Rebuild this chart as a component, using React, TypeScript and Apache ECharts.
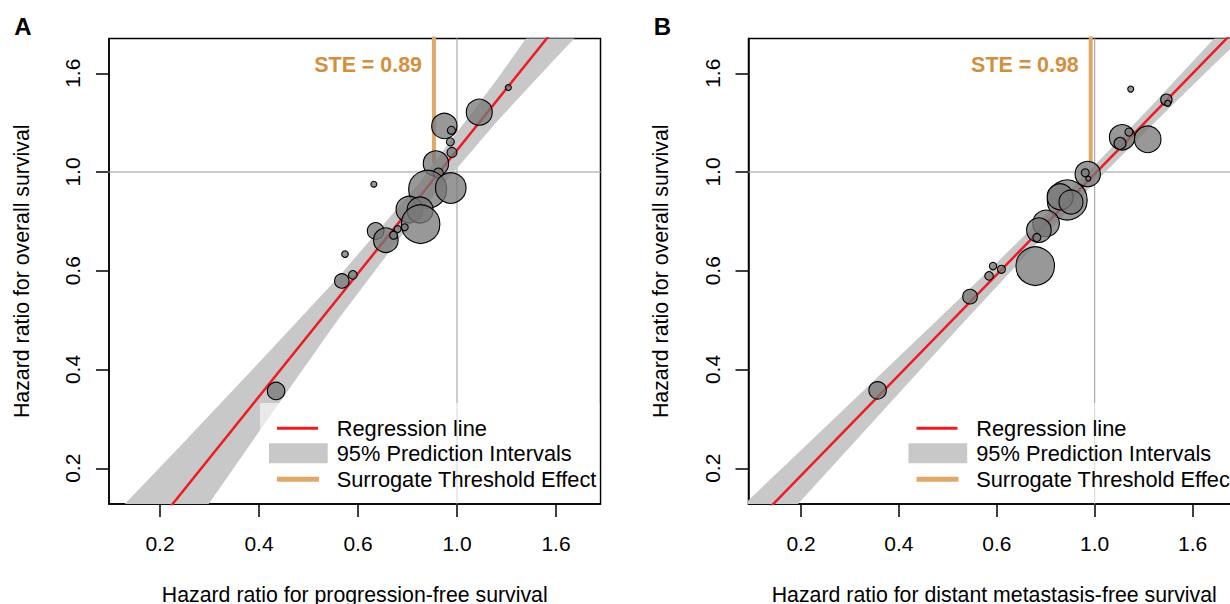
import React, { useEffect, useRef } from 'react';
import * as echarts from 'echarts';

// ---------- shared axis ticks (axes are on natural-log hazard-ratio scale) ----------
const tickLogs = [-1.5, -1, -0.5, 0, 0.5];
const tickLabels = ['0.2', '0.4', '0.6', '1.0', '1.6'];

// ---------- Panel A : PFS vs OS ----------
const aPfsHR = [1.296, 1.119, 0.938, 0.972, 0.967, 0.975, 0.899, 0.91, 0.862, 0.969, 0.657, 0.786, 0.83, 0.832, 0.741, 0.768, 0.663, 0.698, 0.726, 0.568, 0.591, 0.559, 0.401];
const aOsHR = [1.534, 1.354, 1.263, 1.235, 1.165, 1.104, 1.044, 0.995, 0.916, 0.922, 0.94, 0.827, 0.825, 0.768, 0.749, 0.756, 0.742, 0.708, 0.726, 0.66, 0.594, 0.576, 0.33];
const aWeight = [90, 1690, 1610, 160, 160, 250, 1610, 250, 3610, 2340, 90, 1770, 1690, 3720, 120, 120, 690, 1510, 160, 110, 185, 530, 760];
const aBandX = [0.165, 0.247, 0.368, 0.549, 0.819, 1.221, 1.649, 2.226];
const aBandLow = [0.0849, 0.1512, 0.2687, 0.4742, 0.8065, 1.2885, 1.7825, 2.452];
const aBandHigh = [0.1636, 0.2493, 0.3814, 0.5868, 0.9371, 1.5936, 2.4376, 3.747];
const aRegX = [0.165, 2.226];
const aRegY = [0.118, 3.031];
const aSTE = 0.89;

// ---------- Panel B : DMFS vs OS ----------
const bDmfsHR = [1.202, 1.442, 1.452, 1.15, 1.191, 1.138, 1.311, 0.965, 0.953, 0.968, 0.869, 0.838, 0.886, 0.78, 0.752, 0.744, 0.738, 0.595, 0.621, 0.583, 0.529, 0.33];
const bOsHR = [1.522, 1.442, 1.416, 1.192, 1.224, 1.156, 1.18, 0.99, 0.996, 0.967, 0.868, 0.882, 0.859, 0.771, 0.745, 0.718, 0.621, 0.621, 0.611, 0.591, 0.532, 0.331];
const bWeight = [90, 325, 90, 1610, 160, 360, 1770, 1610, 160, 62, 4000, 1690, 1440, 1770, 1510, 160, 3720, 137, 160, 185, 533, 757];
const bBandX = [0.1496, 0.2231, 0.3329, 0.4966, 0.7408, 1.0, 1.3499, 1.8221, 2.4596];
const bBandLow = [0.1222, 0.1892, 0.2926, 0.452, 0.6935, 0.9468, 1.2771, 1.7074, 2.2739];
const bBandHigh = [0.1676, 0.2444, 0.3567, 0.5215, 0.7672, 1.0353, 1.4137, 1.9464, 2.6939];
const bRegX = [0.1496, 2.4596];
const bRegY = [0.1431, 2.4749];
const bSTE = 0.98;

const legendNames = ['Regression line', '95% Prediction Intervals', 'Surrogate Threshold Effect'];

const FONT = '"Liberation Sans", Arial, Helvetica, sans-serif';
const RED = '#ec1c24';
const BAND = '#c8c8c8';
const STE_LINE = '#e0a96a';
const STE_TEXT = '#d48f3e';
const POINT = 'rgba(120,120,120,0.76)';
const STE_END = 1.045;

const ln = Math.log;

type Panel = {
  label: string;
  xTitle: string;
  left: number;
  width: number;
  xMin: number;
  xMax: number;
  xs: number[];
  ys: number[];
  w: number[];
  bandX: number[];
  bandLo: number[];
  bandHi: number[];
  regX: number[];
  regY: number[];
  ste: number;
};

const TOP = 38.5;
const BOTTOM_PX = 504;
const Y_MIN = -1.681;
const Y_MAX = 0.676;

const panels: Panel[] = [
  {
    label: 'A', xTitle: 'Hazard ratio for progression-free survival',
    left: 109, width: 491.5, xMin: -1.7576, xMax: 0.7247,
    xs: aPfsHR, ys: aOsHR, w: aWeight,
    bandX: aBandX, bandLo: aBandLow, bandHi: aBandHigh,
    regX: aRegX, regY: aRegY, ste: aSTE,
  },
  {
    label: 'B', xTitle: 'Hazard ratio for distant metastasis-free survival',
    left: 748.5, width: 491.5, xMin: -1.768, xMax: 0.742,
    xs: bDmfsHR, ys: bOsHR, w: bWeight,
    bandX: bBandX, bandLo: bBandLow, bandHi: bBandHigh,
    regX: bRegX, regY: bRegY, ste: bSTE,
  },
];

function buildOption() {
  const grid: any[] = [];
  const xAxis: any[] = [];
  const yAxis: any[] = [];
  const series: any[] = [];
  const graphic: any[] = [];
  const fmt = (v: number) => {
    const i = tickLogs.findIndex((t) => Math.abs(t - v) < 1e-6);
    return i >= 0 ? tickLabels[i] : '';
  };

  panels.forEach((p, i) => {
    grid.push({
      left: p.left, top: TOP, width: p.width, height: BOTTOM_PX - TOP,
      outerBoundsMode: 'none', containLabel: false,
      show: true, borderColor: '#000', borderWidth: 1.5, backgroundColor: 'transparent',
    });
    xAxis.push({
      type: 'value', gridIndex: i, min: p.xMin, max: p.xMax,
      name: p.xTitle, nameLocation: 'middle', nameGap: 80,
      nameTextStyle: { fontSize: 21.3, color: '#000', fontFamily: FONT },
      axisLine: { show: true, onZero: false, lineStyle: { color: '#000', width: 1.5 } },
      axisTick: { show: true, length: 13, inside: false, customValues: tickLogs, lineStyle: { color: '#000', width: 1.5 } },
      axisLabel: { show: true, customValues: tickLogs, formatter: fmt, margin: 29, fontSize: 21, color: '#000', fontFamily: FONT },
      splitLine: { show: false },
    });
    yAxis.push({
      type: 'value', gridIndex: i, min: Y_MIN, max: Y_MAX,
      name: 'Hazard ratio for overall survival', nameLocation: 'middle', nameGap: 77,
      nameTextStyle: { fontSize: 21.3, color: '#000', fontFamily: FONT },
      axisLine: { show: true, onZero: false, lineStyle: { color: '#000', width: 1.5 } },
      axisTick: { show: true, length: 13, inside: false, customValues: tickLogs, lineStyle: { color: '#000', width: 1.5 } },
      axisLabel: { show: true, customValues: tickLogs, formatter: fmt, rotate: 90, margin: 26, fontSize: 21, color: '#000', fontFamily: FONT },
      splitLine: { show: false },
    });

    // reference lines at HR = 1
    series.push({
      type: 'line', xAxisIndex: i, yAxisIndex: i, silent: true, symbol: 'none', z: 1,
      data: [[0, Y_MIN - 1], [0, Y_MAX + 1]], lineStyle: { color: '#9a9a9a', width: 1 }, clip: true,
    });
    series.push({
      type: 'line', xAxisIndex: i, yAxisIndex: i, silent: true, symbol: 'none', z: 1,
      data: [[p.xMin - 1, 0], [p.xMax + 1, 0]], lineStyle: { color: '#9a9a9a', width: 1 }, clip: true,
    });

    // prediction band
    const bandData = p.bandX.map((x, k) => [ln(x), ln(p.bandLo[k]), ln(p.bandHi[k])]);
    series.push({
      type: 'custom', xAxisIndex: i, yAxisIndex: i, silent: true, z: 2, clip: true,
      data: bandData,
      encode: { x: 0, y: [1, 2] },
      renderItem: (params: any, api: any) => {
        if (params.dataIndex !== 0) return null;
        const upper = bandData.map((d) => api.coord([d[0], d[2]]));
        const lower = bandData.map((d) => api.coord([d[0], d[1]])).reverse();
        return { type: 'polygon', shape: { points: upper.concat(lower) }, style: { fill: BAND } };
      },
    });

    // regression line
    series.push({
      type: 'line', xAxisIndex: i, yAxisIndex: i, silent: true, symbol: 'none', z: 3, clip: true,
      data: p.regX.map((x, k) => [ln(x), ln(p.regY[k])]),
      lineStyle: { color: RED, width: 2.5 },
    });

    // surrogate threshold effect
    series.push({
      type: 'line', xAxisIndex: i, yAxisIndex: i, silent: true, symbol: 'none', z: 3, clip: true,
      data: [[ln(p.ste), Y_MAX + 1], [ln(p.ste), ln(STE_END)]],
      lineStyle: { color: STE_LINE, width: 4, cap: 'butt' },
    });

    // trials
    series.push({
      type: 'scatter', xAxisIndex: i, yAxisIndex: i, z: 5, silent: true,
      data: p.xs.map((x, k) => [ln(x), ln(p.ys[k]), p.w[k]]),
      symbolSize: (v: number[]) => Math.sqrt(v[2]) * 0.632,
      itemStyle: { color: POINT, borderColor: '#000', borderWidth: 1.1, opacity: 1 },
    });

    const L = p.left;
    const R = p.left + p.width;
    const steX = L + (ln(p.ste) - p.xMin) / (p.xMax - p.xMin) * p.width;
    // panel letter
    graphic.push({
      type: 'text', x: L - 86, y: 26, z: 20,
      style: { text: p.label, fill: '#000', fontSize: 24, fontWeight: 'bold', fontFamily: FONT, align: 'center', verticalAlign: 'middle' },
    });
    // STE text
    graphic.push({
      type: 'text', x: steX - 12, y: 65, z: 20,
      style: { text: `STE = ${p.ste.toFixed(2)}`, fill: STE_TEXT, fontSize: 21.4, fontWeight: 'bold', fontFamily: FONT, align: 'right', verticalAlign: 'middle' },
    });
    // legend box
    graphic.push({
      type: 'rect', z: 15, silent: true,
      shape: { x: L + 151, y: 403, width: R - (L + 151) - 1, height: BOTTOM_PX - 403 - 1 },
      style: { fill: 'rgba(255,255,255,0.6)' },
    });
    graphic.push({
      type: 'line', z: 16, shape: { x1: L + 168, y1: 428.3, x2: L + 209, y2: 428.3 },
      style: { stroke: RED, lineWidth: 3 },
    });
    graphic.push({
      type: 'rect', z: 16, shape: { x: L + 160, y: 443.3, width: 58.7, height: 20 },
      style: { fill: BAND },
    });
    graphic.push({
      type: 'line', z: 16, shape: { x1: L + 168, y1: 479.3, x2: L + 210, y2: 479.3 },
      style: { stroke: STE_LINE, lineWidth: 5 },
    });
    legendNames.forEach((t, k) => {
      graphic.push({
        type: 'text', x: L + 227.7, y: [428.3, 453.5, 479.3][k], z: 17,
        style: { text: t, fill: '#000', fontSize: 21.8, fontFamily: FONT, align: 'left', verticalAlign: 'middle' },
      });
    });
  });

  return {
    animation: false,
    backgroundColor: '#fff',
    textStyle: { fontFamily: FONT },
    grid, xAxis, yAxis, series, graphic,
  };
}

export default function App() {
  const ref = useRef<HTMLDivElement>(null);
  useEffect(() => {
    const chart = echarts.init(ref.current as HTMLDivElement, null, { renderer: 'svg' });
    chart.setOption(buildOption() as any);
    return () => chart.dispose();
  }, []);
  return (
    <div
      ref={ref}
      style={{ position: 'absolute', left: 0, top: 0, width: 1230, height: 604, background: '#fff', overflow: 'hidden' }}
    />
  );
}
